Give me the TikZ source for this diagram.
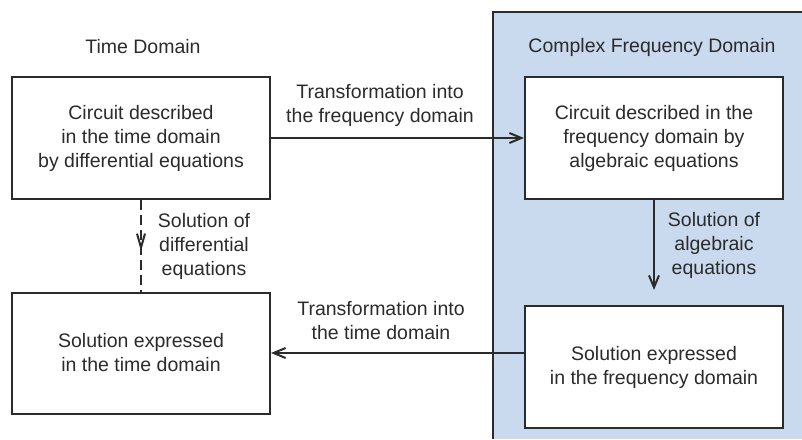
\documentclass[tikz,border=0pt]{standalone}
\usepackage{fontspec}
\setmainfont{Liberation Sans}
\usetikzlibrary{arrows.meta,decorations.markings}
\definecolor{inkgray}{HTML}{2B2B2B}
\definecolor{freqblue}{HTML}{C9D9EE}
\begin{document}
\begin{tikzpicture}[x=1pt, y=-1pt, line width=2pt, draw=inkgray,
  every node/.style={text=inkgray, font=\fontsize{19.5}{24}\selectfont, align=center},
  domainbox/.style={draw=inkgray, fill=white, minimum width=258pt, minimum height=122pt, inner sep=0pt},
  arr/.style={-{Straight Barb[length=12pt, width=10pt]}},
  midarr/.style={postaction={decorate, decoration={markings,
    mark=at position 0.56 with {\arrow[solid]{Straight Barb[length=14pt, width=8pt]}}}}}]
\useasboundingbox (0,0) rectangle (802,439);

% --- Frequency domain panel ---
\fill[freqblue] (493,12) rectangle (802,439);
\draw (493,439) -- (493,12) -- (802,12);

% --- Time domain side ---
\node (timetitle) at (143,47) {Time Domain};
\node[domainbox] (tcircuit) at (141,138) {Circuit described\\in the time domain\\by differential equations};
\node[domainbox, minimum height=121pt] (tsolution) at (141,353) {Solution expressed\\in the time domain};

% --- Frequency domain side ---
\node (freqtitle) at (652,47) {Complex Frequency Domain};
\node[domainbox] (fcircuit) at (654,138) {Circuit described in the\\frequency domain by\\algebraic equations};
\node[domainbox] (fsolution) at (654,367) {Solution expressed\\in the frequency domain};

% --- Connectors ---
\draw[arr] (tcircuit.east) -- (fcircuit.west);
\draw[arr, shorten >=15pt] (fcircuit.south) -- (fsolution.north);
\draw[arr] (tsolution.east -| fsolution.west) -- (tsolution.east);
\draw[dash pattern=on 10pt off 5pt, midarr] (tcircuit.south) -- (tsolution.north);

% --- Connector labels ---
\node (tofreq) at (380,105) {Transformation into\\the frequency domain};
\node (totime) at (381,321) {Transformation into\\the time domain};
\node (soldiff) at (204,246) {Solution of\\differential\\equations};
\node (solalg) at (714,245) {Solution of\\algebraic\\equations};

\end{tikzpicture}
\end{document}
